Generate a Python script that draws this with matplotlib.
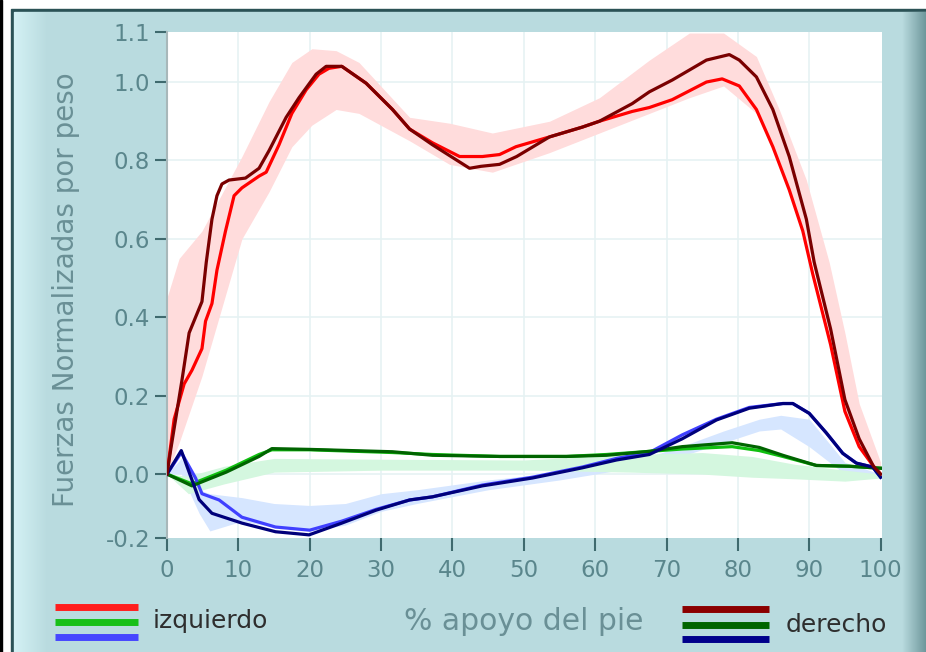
import numpy as np
import matplotlib
matplotlib.use("Agg")
import matplotlib.pyplot as plt
from matplotlib.patches import Rectangle

# ---- data (x = % apoyo del pie) ----
izq_fz_x = [0, 1, 2.4, 3.5, 4.9, 5.4, 6.3, 7.0, 8.2, 9.4, 10.5, 12.9, 13.9, 15.7, 17.5, 19.5, 21.3,
            22.7, 24.5, 27.9, 31.6, 34, 37.2, 41, 44.2, 46.6, 48.9, 53.6, 58.2, 60.6, 65.2, 67.6,
            70.8, 75.6, 77.8, 80.2, 82.6, 84.9, 87.2, 89.1, 90.5, 93, 95, 97, 99, 100]
izq_fz = [0.0, 0.14, 0.23, 0.265, 0.32, 0.39, 0.435, 0.52, 0.62, 0.71, 0.73, 0.76, 0.77, 0.84, 0.92,
          0.98, 1.02, 1.035, 1.04, 0.997, 0.93, 0.88, 0.845, 0.81, 0.81, 0.815, 0.835, 0.86, 0.885,
          0.90, 0.925, 0.935, 0.955, 1.0, 1.008, 0.99, 0.93, 0.835, 0.725, 0.62, 0.51, 0.33, 0.16,
          0.07, 0.02, 0.0]

der_fz_x = [0, 0.5, 2.1, 3.1, 4.9, 5.5, 6.3, 7.0, 7.7, 8.7, 11, 12.9, 14.3, 16.7, 18.5, 20.9, 22.3,
            24.5, 27.9, 31.6, 34, 37.2, 42.4, 44, 46.6, 49, 53.6, 58.2, 60.6, 65.2, 67.6, 70.8, 75.6,
            78.8, 80.2, 82.6, 84.9, 87.2, 89.6, 90.7, 93, 95, 97, 99, 100]
der_fz = [0.0, 0.06, 0.24, 0.36, 0.44, 0.54, 0.65, 0.71, 0.74, 0.75, 0.755, 0.78, 0.825, 0.91, 0.96,
          1.02, 1.04, 1.04, 0.997, 0.93, 0.88, 0.84, 0.78, 0.785, 0.79, 0.81, 0.86, 0.885, 0.90,
          0.945, 0.975, 1.005, 1.056, 1.07, 1.056, 1.013, 0.93, 0.81, 0.65, 0.54, 0.37, 0.19, 0.09,
          0.02, 0.0]

fz_band_x = [0, 1.7, 4.9, 10.5, 14.3, 17.5, 20.3, 23.7, 26.9, 34, 39.6, 45.6, 53.6, 60.6, 67.6,
             73.2, 78, 82.6, 85.8, 89.6, 92.8, 95, 97, 100]
fz_band_hi = [0.45, 0.55, 0.62, 0.81, 0.95, 1.05, 1.085, 1.08, 1.05, 0.91, 0.895, 0.87, 0.90, 0.96,
              1.056, 1.125, 1.125, 1.065, 0.93, 0.75, 0.54, 0.36, 0.18, 0.03]
fz_band_lo = [0.0, 0.08, 0.25, 0.6, 0.72, 0.835, 0.89, 0.93, 0.92, 0.85, 0.79, 0.77, 0.82, 0.87,
              0.92, 0.96, 0.99, 0.92, 0.80, 0.60, 0.36, 0.17, 0.07, 0.0]

fy_x = [0, 3.5, 8.3, 12.9, 14.7, 20, 31.6, 37.2, 46.6, 56, 61.6, 67.6, 72.2, 79.2, 83, 86.3, 91, 95.6, 100]
izq_fy = [0.0, -0.025, 0.01, 0.05, 0.062, 0.062, 0.055, 0.05, 0.045, 0.045, 0.05, 0.058, 0.064,
          0.07, 0.06, 0.045, 0.022, 0.02, 0.015]
der_fy = [0.0, -0.03, 0.005, 0.045, 0.065, 0.063, 0.057, 0.048, 0.045, 0.045, 0.048, 0.058, 0.07,
          0.08, 0.068, 0.048, 0.022, 0.02, 0.015]

fy_band_x = [0, 3, 8, 15, 30, 50, 65, 75, 82, 88, 95, 100]
fy_band_hi = [0.0, -0.005, 0.02, 0.04, 0.038, 0.036, 0.05, 0.055, 0.045, 0.025, 0.01, 0.0]
fy_band_lo = [0.0, -0.05, -0.025, 0.005, 0.01, 0.01, 0.005, 0.0, -0.008, -0.012, -0.018, -0.01]

izq_fx_x = [0, 2, 4, 4.9, 7.3, 10.5, 15.2, 20, 24.5, 29.3, 34, 37.2, 44.2, 51.2, 58.2, 63, 67.6,
            72.2, 77, 81.6, 86.3, 87.7, 90, 92.4, 94.7, 96.6, 98.9, 100]
izq_fx = [0.0, 0.055, -0.01, -0.05, -0.066, -0.11, -0.135, -0.143, -0.12, -0.09, -0.066, -0.058,
          -0.028, -0.008, 0.018, 0.04, 0.055, 0.1, 0.14, 0.17, 0.18, 0.18, 0.155, 0.105, 0.053,
          0.028, 0.018, -0.008]
der_fx_x = [0, 2, 4.5, 6.3, 10.5, 15.2, 19.9, 24.5, 29.3, 34, 37.2, 44.2, 51.2, 58.2, 63, 67.6,
            72.2, 77, 81.6, 86.3, 87.7, 90, 92.4, 94.7, 96.6, 98.9, 100]
der_fx = [0.0, 0.06, -0.065, -0.1, -0.125, -0.147, -0.155, -0.125, -0.092, -0.066, -0.058, -0.03,
          -0.01, 0.016, 0.036, 0.05, 0.09, 0.138, 0.168, 0.18, 0.18, 0.155, 0.105, 0.053, 0.028,
          0.018, -0.008]

fx_band_x = [0, 2, 4.5, 6, 10.5, 15, 20, 25, 30, 35, 45, 55, 65, 72, 78, 83, 86, 90, 95, 100]
fx_band_hi = [0.0, 0.04, -0.04, -0.05, -0.06, -0.075, -0.08, -0.075, -0.05, -0.04, -0.015, 0.005,
              0.03, 0.07, 0.11, 0.14, 0.15, 0.14, 0.03, 0.0]
fx_band_lo = [0.0, 0.0, -0.1, -0.145, -0.12, -0.135, -0.145, -0.13, -0.095, -0.075, -0.04, -0.015,
              0.015, 0.045, 0.08, 0.11, 0.115, 0.07, 0.0, -0.01]

x_ticks = [0, 10, 20, 30, 40, 50, 60, 70, 80, 90, 100]
y_ticks = [-0.163, 0.0, 0.2, 0.4, 0.6, 0.8, 1.0, 1.1276]
y_labels = ["-0.2", "0.0", "0.2", "0.4", "0.6", "0.8", "1.0", "1.1"]

W, H = 926, 652
fig = plt.figure(figsize=(W / 100, H / 100), dpi=100, facecolor="white")

# frame / panel background in pixel coordinates
bg = fig.add_axes([0, 0, 1, 1])
bg.set_xlim(0, W)
bg.set_ylim(H, 0)
bg.axis("off")
bg.add_patch(Rectangle((0, 0), 2, H, color="black"))
bg.add_patch(Rectangle((11, 9), W - 11, H - 9, color="#2b5256"))
bg.add_patch(Rectangle((14, 12), W - 14, H - 12, color="#b9dbdf"))
grad_l = np.linspace(0, 1, 50).reshape(1, -1)
bg.imshow(grad_l, extent=(14, 48, H, 12), cmap=matplotlib.colors.LinearSegmentedColormap.from_list(
    "l", ["#d3f1f4", "#b9dbdf"]), aspect="auto", zorder=1)
bg.imshow(grad_l, extent=(902, W, H, 12), cmap=matplotlib.colors.LinearSegmentedColormap.from_list(
    "r", ["#b9dbdf", "#6f989c"]), aspect="auto", zorder=1)

# plot area
ax = fig.add_axes([167 / W, 1 - 538 / H, (882 - 167) / W, (538 - 32) / H])
ax.set_facecolor("white")
ax.set_xlim(0, 100.2)
ax.set_ylim(y_ticks[0], y_ticks[-1])

ax.fill_between(fz_band_x, fz_band_lo, fz_band_hi, color="#ffdcdc", lw=0, zorder=1)
ax.fill_between(fx_band_x, fx_band_lo, fx_band_hi, color="#d6e6ff", lw=0, zorder=1)
ax.fill_between(fy_band_x, fy_band_lo, fy_band_hi, color="#d4f7df", lw=0, zorder=1)

lw = 2.3
ax.plot(fy_x, izq_fy, color="#10c010", lw=lw, zorder=3)
ax.plot(fy_x, der_fy, color="#006400", lw=lw, zorder=4)
ax.plot(izq_fx_x, izq_fx, color="#4040ff", lw=lw, zorder=3)
ax.plot(der_fx_x, der_fx, color="#00007a", lw=lw, zorder=4)
ax.plot(izq_fz_x, izq_fz, color="#ff0000", lw=lw, zorder=3)
ax.plot(der_fz_x, der_fz, color="#7a0000", lw=lw, zorder=4)

ax.set_xticks(x_ticks)
ax.set_yticks(y_ticks)
ax.set_yticklabels(y_labels)
for v in x_ticks[1:-1]:
    ax.axvline(v, color="#e6f2f3", lw=1.2, zorder=0)
for v in y_ticks[1:-1]:
    ax.axhline(v, color="#e6f2f3", lw=1.2, zorder=0)

tick_col = "#5a868c"
ax.tick_params(axis="both", colors="#3f6a6e", labelcolor=tick_col, labelsize=16.5,
               length=9, width=1.5, direction="out")
ax.tick_params(axis="y", pad=3)
ax.tick_params(axis="x", pad=6)
for s in ["top", "right", "bottom"]:
    ax.spines[s].set_visible(False)
ax.spines["left"].set_color("#a8b8ba")
ax.spines["left"].set_linewidth(1.5)

fig.text(66 / W, 1 - 290 / H, "Fuerzas Normalizadas por peso", rotation=90, color="#6a9096",
         fontsize=20, ha="center", va="center")
fig.text(524 / W, 1 - 621 / H, "% apoyo del pie", color="#6a9096", fontsize=21.5,
         ha="center", va="center")

# legend swatches
leg_left = [("#ff1e1e", 607), ("#18c018", 622), ("#4646ff", 637)]
leg_right = [("#8b0000", 609), ("#006400", 625), ("#00008b", 639)]
for c, yy in leg_left:
    bg.plot([55, 138], [yy, yy], color=c, lw=5, solid_capstyle="butt", zorder=3)
for c, yy in leg_right:
    bg.plot([682, 769], [yy, yy], color=c, lw=5, solid_capstyle="butt", zorder=3)
bg.text(153, 621, "izquierdo", color="#2e2e2e", fontsize=18, ha="left", va="center")
bg.text(786, 625, "derecho", color="#2e2e2e", fontsize=18, ha="left", va="center")

fig.savefig("out.png", dpi=100, facecolor=fig.get_facecolor())
